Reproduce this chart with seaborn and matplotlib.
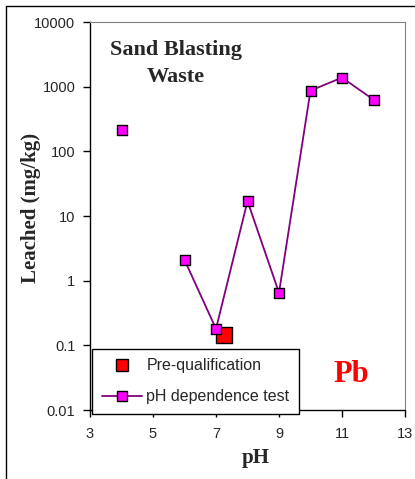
import pandas as pd
import numpy as np
import seaborn as sns
import matplotlib.pyplot as plt
from matplotlib.lines import Line2D
from matplotlib.ticker import FixedLocator, FixedFormatter, NullLocator

# Data
ph_test = [4, 6, 7, 8, 9, 10, 11, 12]
leached_test = [215, 2.1, 0.18, 17, 0.65, 870, 1380, 630]
ph_prequal = [7.25]
leached_prequal = [0.145]
y_ticks = [0.01, 0.1, 1, 10, 100, 1000, 10000]
y_tick_labels = ["0.01", "0.1", "1", "10", "100", "1000", "10000"]
x_ticks = [3, 5, 7, 9, 11, 13]

df_test = pd.DataFrame({"pH": ph_test, "Leached": leached_test})
df_pre = pd.DataFrame({"pH": ph_prequal, "Leached": leached_prequal})

sns.set_style("ticks")
plt.rcParams["font.family"] = ["Liberation Sans", "DejaVu Sans"]

fig = plt.figure(figsize=(4.15, 4.79), dpi=100)
ax = fig.add_axes([90 / 415, 1 - 410 / 479, 315 / 415, 388 / 479])

# Pre-qualification marker (drawn first so the test marker sits on top)
sns.scatterplot(data=df_pre, x="pH", y="Leached", marker="s", s=125,
                color="#ff0000", edgecolor="black", linewidth=1, ax=ax, zorder=3)

# pH dependence test: line only joins pH 6..12, pH 4 stands alone
sns.lineplot(data=df_test[df_test["pH"] >= 6], x="pH", y="Leached", color="#800080",
             linewidth=1.3, estimator=None, sort=False, ax=ax, zorder=2)
sns.scatterplot(data=df_test, x="pH", y="Leached", marker="s", s=55,
                color="#ff00ff", edgecolor="black", linewidth=1, ax=ax, zorder=4)

ax.set_yscale("log")
ax.set_ylim(0.01, 10000)
ax.set_xlim(3, 13)
ax.yaxis.set_major_locator(FixedLocator(y_ticks))
ax.yaxis.set_major_formatter(FixedFormatter(y_tick_labels))
ax.yaxis.set_minor_locator(NullLocator())
ax.set_xticks(x_ticks)
ax.tick_params(axis="both", labelsize=10.5, length=5, width=1, color="black", direction="out")
ax.tick_params(axis="y", pad=5.5)
ax.tick_params(axis="x", pad=7.5)
ax.set_xlabel("")
ax.set_ylabel("")

for side in ["top", "right"]:
    ax.spines[side].set_visible(True)
    ax.spines[side].set_color("#808080")
for side in ["left", "bottom"]:
    ax.spines[side].set_color("black")
    ax.spines[side].set_linewidth(1)

# Texts
fig.text(176 / 415, 1 - 82 / 479, "Sand Blasting\nWaste", ha="center", va="baseline",
         family="Liberation Serif", weight="bold", fontsize=16, linespacing=1.46,
         multialignment="center")
fig.text(351 / 415, 1 - 382 / 479, "Pb", ha="center", va="baseline",
         family="Liberation Serif", weight="bold", fontsize=22, color="#ff0000")
fig.text(31 / 415, 1 - 208 / 479, "Leached (mg/kg)", ha="center", va="center",
         rotation=90, family="Liberation Serif", weight="bold", fontsize=15)
fig.text(256 / 415, 1 - 463 / 479, "pH", ha="center", va="baseline",
         family="Liberation Serif", weight="bold", fontsize=15)

# Legend
handles = [
    Line2D([], [], linestyle="none", marker="s", markersize=8, markerfacecolor="#ff0000",
           markeredgecolor="black"),
    Line2D([], [], color="#800080", linewidth=1.3, marker="s", markersize=7,
           markerfacecolor="#ff00ff", markeredgecolor="black"),
]
leg = fig.legend(handles, ["Pre-qualification", "pH dependence test"],
                 loc="lower left", bbox_to_anchor=(92 / 415, 1 - 414 / 479),
                 fontsize=11.5, frameon=True, fancybox=False, edgecolor="black",
                 framealpha=1, labelspacing=1.0, handlelength=2.55, borderpad=0.6,
                 handletextpad=0.25, borderaxespad=0)
leg.get_frame().set_linewidth(1)

# Outer border (left and top)
fig.add_artist(Line2D([6 / 415, 6 / 415], [0, 1 - 6 / 479], color="black", linewidth=1,
                      transform=fig.transFigure))
fig.add_artist(Line2D([6 / 415, 1], [1 - 6 / 479, 1 - 6 / 479], color="black", linewidth=1,
                      transform=fig.transFigure))

fig.savefig("out.png", dpi=100)
